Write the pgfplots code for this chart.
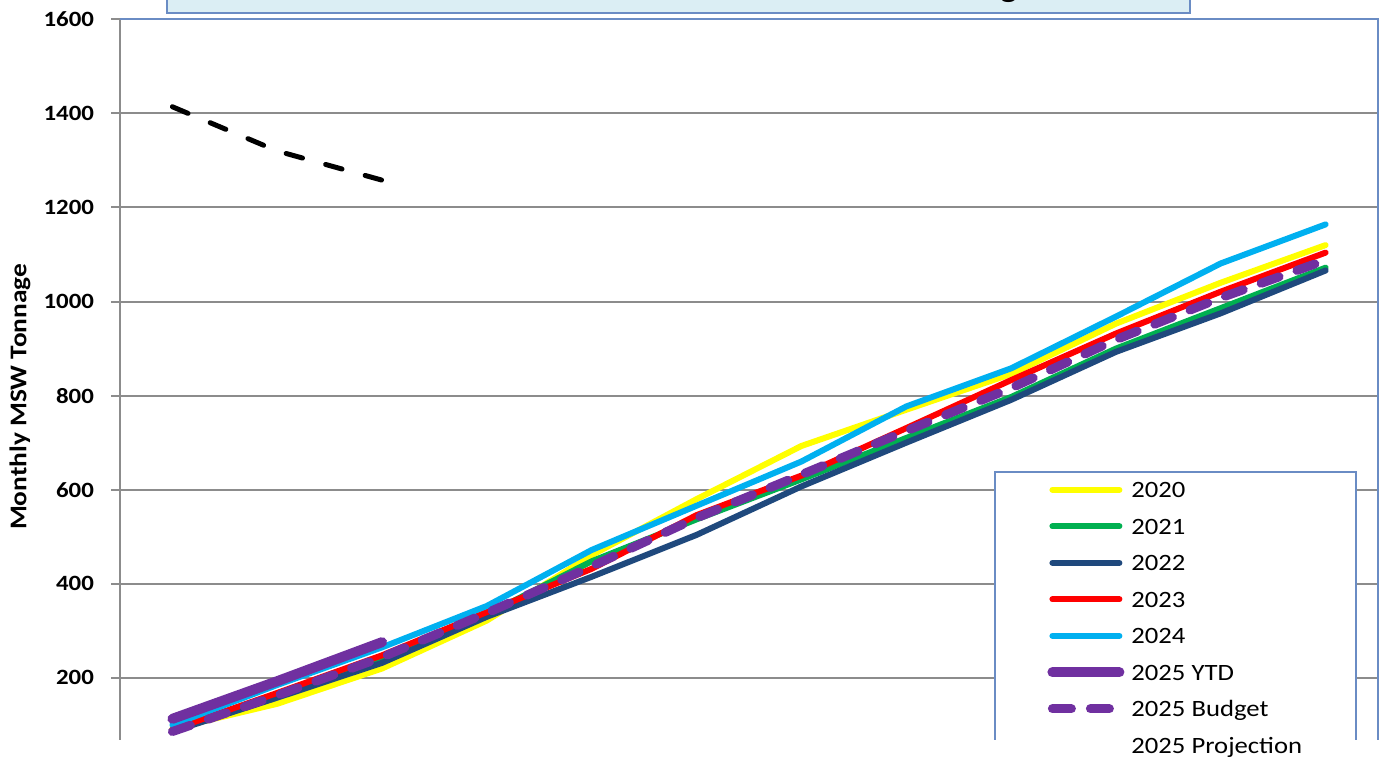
\documentclass[border=0pt]{standalone}
\usepackage{pgfplots}
\usepackage{pgfplotstable}
\pgfplotsset{compat=1.18}
\usepackage{fontspec}
\setmainfont{Carlito}[FakeStretch=1.14]

\definecolor{c2020}{HTML}{FFFF00}
\definecolor{c2021}{HTML}{00B050}
\definecolor{c2022}{HTML}{1F497D}
\definecolor{c2023}{HTML}{FF0000}
\definecolor{c2024}{HTML}{00B0F0}
\definecolor{c2025}{HTML}{7030A0}
\definecolor{gridgray}{HTML}{8C8C8C}
\definecolor{frameblue}{HTML}{6A8CC4}
\definecolor{titlefill}{HTML}{DBEEF4}

\pgfplotstableread{
m y2020 y2021 y2022 y2023 y2024 budget
1  92   90   86   90   100  86
2  145  162  158  168  185  163
3  220  240  232  248  265  244
4  322  335  330  340  353  338
5  461  448  415  432  472  437
6  580  537  504  546  566  540
7  693  622  607  630  660  632
8  770  710  700  731  777  725
9  846  797  791  833  858  816
10 953  900  893  932  968  919
11 1040 986  975  1021 1081 1008
12 1120 1072 1066 1104 1164 1088
}\tblyears

\begin{document}
\begin{tikzpicture}
\begin{axis}[
  at={(60pt,9.5pt)}, anchor=south west,
  scale only axis, width=629pt, height=360.35pt,
  xmin=0.5, xmax=12.5, ymin=68, ymax=1600,
  xtick=\empty,
  ytick={200,400,...,1600},
  ytick pos=left,
  tick align=outside,
  major tick length=4.5pt,
  ytick style={draw=gridgray, line width=1pt},
  ymajorgrids,
  major grid style={draw=gridgray, line width=1pt},
  axis line style={draw=none},
  /pgf/number format/assume math mode=true,
  /pgf/number format/1000 sep={},
  yticklabel style={font=\bfseries\fontsize{10.9}{12}\selectfont, xshift=-5pt},
  clip=false,
  legend cell align=left,
  legend style={draw=none, fill=none,
    at={(rel axis cs:0.69157,0.35895)}, anchor=north west,
    font=\fontsize{11.7}{13}\selectfont,
    row sep=7.75pt, column sep=0pt, inner xsep=0pt, inner ysep=0pt,
    nodes={inner sep=0pt, text height=8pt, text depth=2.5pt}},
  legend image code/.code={\path (-28.5pt,0pt) (37pt,1.2pt);
    \draw[#1, line cap=round] (0pt,1.2pt) -- (33.5pt,1.2pt);},
  every axis plot/.append style={line join=round, line cap=round},
]
% legend frame
\fill[white] (rel axis cs:0.69555,0) rectangle (rel axis cs:0.98251,0.37228);
\draw[frameblue, line width=1pt] (rel axis cs:0.69555,0) -- (rel axis cs:0.69555,0.37228)
   -- (rel axis cs:0.98251,0.37228) -- (rel axis cs:0.98251,0);

\addplot[c2020, line width=3pt] table[x=m, y=y2020] {\tblyears};
\addlegendentry{2020}
\addplot[c2021, line width=3pt] table[x=m, y=y2021] {\tblyears};
\addlegendentry{2021}
\addplot[c2022, line width=3pt] table[x=m, y=y2022] {\tblyears};
\addlegendentry{2022}
\addplot[c2023, line width=3pt] table[x=m, y=y2023] {\tblyears};
\addlegendentry{2023}
\addplot[c2024, line width=3pt] table[x=m, y=y2024] {\tblyears};
\addlegendentry{2024}
\addplot[c2025, line width=5pt] coordinates {(1,113) (2,193) (3,276)};
\addlegendentry{2025 YTD}
\addplot[c2025, line width=4.5pt, dash pattern=on 9.5pt off 9.5pt] table[x=m, y=budget] {\tblyears};
\addlegendentry{2025 Budget}
\addplot[black, line width=2.5pt, dash pattern=on 8.5pt off 12pt, forget plot] coordinates {(1,1414) (2,1320) (3,1258)};
\addlegendimage{empty legend}
\addlegendentry{2025 Projection}

% plot-area frame
\draw[gridgray, line width=1pt] (rel axis cs:0,0) -- (rel axis cs:0,1);
\draw[frameblue, line width=1pt] (rel axis cs:0,1) -- (rel axis cs:1,1) -- (rel axis cs:1,0);
\end{axis}

% title box (cropped at top)
\filldraw[fill=titlefill, draw=frameblue, line width=1pt] (83.5pt,373pt) rectangle (595pt,395pt);
\node[anchor=base east, inner sep=0pt, font=\bfseries\fontsize{15}{18}\selectfont] at (517pt,380.5pt) {Cumulative MSW Tonnage};

% y label
\node[rotate=90, font=\bfseries\fontsize{12}{14}\selectfont] at (10pt,181pt) {Monthly MSW Tonnage};

\pgfresetboundingbox
\useasboundingbox (0,0) rectangle (692.5pt,379.5pt);
\end{tikzpicture}
\end{document}
